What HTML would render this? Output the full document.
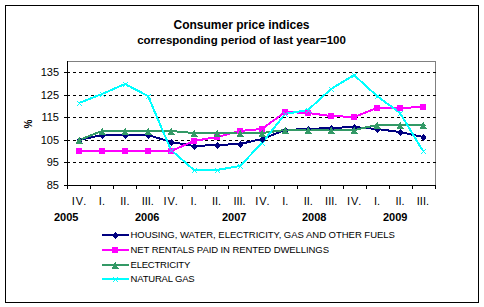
<!DOCTYPE html>
<html><head><meta charset="utf-8"><style>
html,body{margin:0;padding:0;background:#fff;}
body{width:484px;height:307px;position:relative;overflow:hidden;font-family:"Liberation Sans",sans-serif;}
.frame{position:absolute;left:5px;top:5px;width:472px;height:296px;border:1px solid #000;}
.t{position:absolute;white-space:nowrap;line-height:1;color:#000;}
.r{text-align:right;width:30px;}
.c{text-align:center;width:40px;}
svg{position:absolute;left:0;top:0;}
</style></head><body>
<div class="frame"></div>
<svg width="484" height="307" viewBox="0 0 484 307">
<path d="M67,61h369v1h-369z M435,61h1v125h-1z" fill="#808080"/>
<path d="M67,72h3v1h-3zM73,72h3v1h-3zM79,72h3v1h-3zM85,72h3v1h-3zM91,72h3v1h-3zM97,72h3v1h-3zM103,72h3v1h-3zM109,72h3v1h-3zM115,72h3v1h-3zM121,72h3v1h-3zM127,72h3v1h-3zM133,72h3v1h-3zM139,72h3v1h-3zM145,72h3v1h-3zM151,72h3v1h-3zM157,72h3v1h-3zM163,72h3v1h-3zM169,72h3v1h-3zM175,72h3v1h-3zM181,72h3v1h-3zM187,72h3v1h-3zM193,72h3v1h-3zM199,72h3v1h-3zM205,72h3v1h-3zM211,72h3v1h-3zM217,72h3v1h-3zM223,72h3v1h-3zM229,72h3v1h-3zM235,72h3v1h-3zM241,72h3v1h-3zM247,72h3v1h-3zM253,72h3v1h-3zM259,72h3v1h-3zM265,72h3v1h-3zM271,72h3v1h-3zM277,72h3v1h-3zM283,72h3v1h-3zM289,72h3v1h-3zM295,72h3v1h-3zM301,72h3v1h-3zM307,72h3v1h-3zM313,72h3v1h-3zM319,72h3v1h-3zM325,72h3v1h-3zM331,72h3v1h-3zM337,72h3v1h-3zM343,72h3v1h-3zM349,72h3v1h-3zM355,72h3v1h-3zM361,72h3v1h-3zM367,72h3v1h-3zM373,72h3v1h-3zM379,72h3v1h-3zM385,72h3v1h-3zM391,72h3v1h-3zM397,72h3v1h-3zM403,72h3v1h-3zM409,72h3v1h-3zM415,72h3v1h-3zM421,72h3v1h-3zM427,72h3v1h-3zM433,72h3v1h-3zM67,95h3v1h-3zM73,95h3v1h-3zM79,95h3v1h-3zM85,95h3v1h-3zM91,95h3v1h-3zM97,95h3v1h-3zM103,95h3v1h-3zM109,95h3v1h-3zM115,95h3v1h-3zM121,95h3v1h-3zM127,95h3v1h-3zM133,95h3v1h-3zM139,95h3v1h-3zM145,95h3v1h-3zM151,95h3v1h-3zM157,95h3v1h-3zM163,95h3v1h-3zM169,95h3v1h-3zM175,95h3v1h-3zM181,95h3v1h-3zM187,95h3v1h-3zM193,95h3v1h-3zM199,95h3v1h-3zM205,95h3v1h-3zM211,95h3v1h-3zM217,95h3v1h-3zM223,95h3v1h-3zM229,95h3v1h-3zM235,95h3v1h-3zM241,95h3v1h-3zM247,95h3v1h-3zM253,95h3v1h-3zM259,95h3v1h-3zM265,95h3v1h-3zM271,95h3v1h-3zM277,95h3v1h-3zM283,95h3v1h-3zM289,95h3v1h-3zM295,95h3v1h-3zM301,95h3v1h-3zM307,95h3v1h-3zM313,95h3v1h-3zM319,95h3v1h-3zM325,95h3v1h-3zM331,95h3v1h-3zM337,95h3v1h-3zM343,95h3v1h-3zM349,95h3v1h-3zM355,95h3v1h-3zM361,95h3v1h-3zM367,95h3v1h-3zM373,95h3v1h-3zM379,95h3v1h-3zM385,95h3v1h-3zM391,95h3v1h-3zM397,95h3v1h-3zM403,95h3v1h-3zM409,95h3v1h-3zM415,95h3v1h-3zM421,95h3v1h-3zM427,95h3v1h-3zM433,95h3v1h-3zM67,117h3v1h-3zM73,117h3v1h-3zM79,117h3v1h-3zM85,117h3v1h-3zM91,117h3v1h-3zM97,117h3v1h-3zM103,117h3v1h-3zM109,117h3v1h-3zM115,117h3v1h-3zM121,117h3v1h-3zM127,117h3v1h-3zM133,117h3v1h-3zM139,117h3v1h-3zM145,117h3v1h-3zM151,117h3v1h-3zM157,117h3v1h-3zM163,117h3v1h-3zM169,117h3v1h-3zM175,117h3v1h-3zM181,117h3v1h-3zM187,117h3v1h-3zM193,117h3v1h-3zM199,117h3v1h-3zM205,117h3v1h-3zM211,117h3v1h-3zM217,117h3v1h-3zM223,117h3v1h-3zM229,117h3v1h-3zM235,117h3v1h-3zM241,117h3v1h-3zM247,117h3v1h-3zM253,117h3v1h-3zM259,117h3v1h-3zM265,117h3v1h-3zM271,117h3v1h-3zM277,117h3v1h-3zM283,117h3v1h-3zM289,117h3v1h-3zM295,117h3v1h-3zM301,117h3v1h-3zM307,117h3v1h-3zM313,117h3v1h-3zM319,117h3v1h-3zM325,117h3v1h-3zM331,117h3v1h-3zM337,117h3v1h-3zM343,117h3v1h-3zM349,117h3v1h-3zM355,117h3v1h-3zM361,117h3v1h-3zM367,117h3v1h-3zM373,117h3v1h-3zM379,117h3v1h-3zM385,117h3v1h-3zM391,117h3v1h-3zM397,117h3v1h-3zM403,117h3v1h-3zM409,117h3v1h-3zM415,117h3v1h-3zM421,117h3v1h-3zM427,117h3v1h-3zM433,117h3v1h-3zM67,140h3v1h-3zM73,140h3v1h-3zM79,140h3v1h-3zM85,140h3v1h-3zM91,140h3v1h-3zM97,140h3v1h-3zM103,140h3v1h-3zM109,140h3v1h-3zM115,140h3v1h-3zM121,140h3v1h-3zM127,140h3v1h-3zM133,140h3v1h-3zM139,140h3v1h-3zM145,140h3v1h-3zM151,140h3v1h-3zM157,140h3v1h-3zM163,140h3v1h-3zM169,140h3v1h-3zM175,140h3v1h-3zM181,140h3v1h-3zM187,140h3v1h-3zM193,140h3v1h-3zM199,140h3v1h-3zM205,140h3v1h-3zM211,140h3v1h-3zM217,140h3v1h-3zM223,140h3v1h-3zM229,140h3v1h-3zM235,140h3v1h-3zM241,140h3v1h-3zM247,140h3v1h-3zM253,140h3v1h-3zM259,140h3v1h-3zM265,140h3v1h-3zM271,140h3v1h-3zM277,140h3v1h-3zM283,140h3v1h-3zM289,140h3v1h-3zM295,140h3v1h-3zM301,140h3v1h-3zM307,140h3v1h-3zM313,140h3v1h-3zM319,140h3v1h-3zM325,140h3v1h-3zM331,140h3v1h-3zM337,140h3v1h-3zM343,140h3v1h-3zM349,140h3v1h-3zM355,140h3v1h-3zM361,140h3v1h-3zM367,140h3v1h-3zM373,140h3v1h-3zM379,140h3v1h-3zM385,140h3v1h-3zM391,140h3v1h-3zM397,140h3v1h-3zM403,140h3v1h-3zM409,140h3v1h-3zM415,140h3v1h-3zM421,140h3v1h-3zM427,140h3v1h-3zM433,140h3v1h-3zM67,162h3v1h-3zM73,162h3v1h-3zM79,162h3v1h-3zM85,162h3v1h-3zM91,162h3v1h-3zM97,162h3v1h-3zM103,162h3v1h-3zM109,162h3v1h-3zM115,162h3v1h-3zM121,162h3v1h-3zM127,162h3v1h-3zM133,162h3v1h-3zM139,162h3v1h-3zM145,162h3v1h-3zM151,162h3v1h-3zM157,162h3v1h-3zM163,162h3v1h-3zM169,162h3v1h-3zM175,162h3v1h-3zM181,162h3v1h-3zM187,162h3v1h-3zM193,162h3v1h-3zM199,162h3v1h-3zM205,162h3v1h-3zM211,162h3v1h-3zM217,162h3v1h-3zM223,162h3v1h-3zM229,162h3v1h-3zM235,162h3v1h-3zM241,162h3v1h-3zM247,162h3v1h-3zM253,162h3v1h-3zM259,162h3v1h-3zM265,162h3v1h-3zM271,162h3v1h-3zM277,162h3v1h-3zM283,162h3v1h-3zM289,162h3v1h-3zM295,162h3v1h-3zM301,162h3v1h-3zM307,162h3v1h-3zM313,162h3v1h-3zM319,162h3v1h-3zM325,162h3v1h-3zM331,162h3v1h-3zM337,162h3v1h-3zM343,162h3v1h-3zM349,162h3v1h-3zM355,162h3v1h-3zM361,162h3v1h-3zM367,162h3v1h-3zM373,162h3v1h-3zM379,162h3v1h-3zM385,162h3v1h-3zM391,162h3v1h-3zM397,162h3v1h-3zM403,162h3v1h-3zM409,162h3v1h-3zM415,162h3v1h-3zM421,162h3v1h-3zM427,162h3v1h-3zM433,162h3v1h-3z" fill="#000"/>
<path d="M67,61h1v128h-1z M64,185h372v1h-372zM64,72h3v1h-3zM64,95h3v1h-3zM64,117h3v1h-3zM64,140h3v1h-3zM64,162h3v1h-3zM67,186h1v3h-1zM90,186h1v3h-1zM113,186h1v3h-1zM136,186h1v3h-1zM159,186h1v3h-1zM182,186h1v3h-1zM205,186h1v3h-1zM228,186h1v3h-1zM251,186h1v3h-1zM274,186h1v3h-1zM297,186h1v3h-1zM320,186h1v3h-1zM343,186h1v3h-1zM366,186h1v3h-1zM389,186h1v3h-1zM412,186h1v3h-1zM435,186h1v3h-1z" fill="#000"/>
<polyline points="79,140 102,135 125,135 148,135 171,142 194,146 217,145 240,144 262,139 285,130 308,129 331,128 354,127 377,129 400,132 423,137" fill="none" stroke="#000080" stroke-width="2" stroke-linejoin="miter" shape-rendering="crispEdges"/>
<polyline points="79,151 102,151 125,151 148,151 171,151 194,141 217,137 240,131 262,129 285,112 308,113 331,116 354,117 377,108 400,108 423,107" fill="none" stroke="#FF00FF" stroke-width="2" stroke-linejoin="miter" shape-rendering="crispEdges"/>
<polyline points="79,140 102,131 125,131 148,131 171,131 194,133 217,133 240,133 262,133 285,130 308,130 331,130 354,130 377,125 400,125 423,125" fill="none" stroke="#339966" stroke-width="2" stroke-linejoin="miter" shape-rendering="crispEdges"/>
<polyline points="79,103 102,94 125,84 148,96 171,150 194,170 217,170 240,166 262,143 285,114 308,110 331,89 354,75 377,96 400,113 423,151" fill="none" stroke="#00FFFF" stroke-width="2" stroke-linejoin="miter" shape-rendering="crispEdges"/>
<path d="M79,137h1v1h-1zM78,138h3v1h-3zM77,139h5v1h-5zM77,140h5v1h-5zM77,141h5v1h-5zM78,142h3v1h-3zM79,143h1v1h-1zM102,132h1v1h-1zM101,133h3v1h-3zM100,134h5v1h-5zM100,135h5v1h-5zM100,136h5v1h-5zM101,137h3v1h-3zM102,138h1v1h-1zM125,132h1v1h-1zM124,133h3v1h-3zM123,134h5v1h-5zM123,135h5v1h-5zM123,136h5v1h-5zM124,137h3v1h-3zM125,138h1v1h-1zM148,132h1v1h-1zM147,133h3v1h-3zM146,134h5v1h-5zM146,135h5v1h-5zM146,136h5v1h-5zM147,137h3v1h-3zM148,138h1v1h-1zM171,139h1v1h-1zM170,140h3v1h-3zM169,141h5v1h-5zM169,142h5v1h-5zM169,143h5v1h-5zM170,144h3v1h-3zM171,145h1v1h-1zM194,143h1v1h-1zM193,144h3v1h-3zM192,145h5v1h-5zM192,146h5v1h-5zM192,147h5v1h-5zM193,148h3v1h-3zM194,149h1v1h-1zM217,142h1v1h-1zM216,143h3v1h-3zM215,144h5v1h-5zM215,145h5v1h-5zM215,146h5v1h-5zM216,147h3v1h-3zM217,148h1v1h-1zM240,141h1v1h-1zM239,142h3v1h-3zM238,143h5v1h-5zM238,144h5v1h-5zM238,145h5v1h-5zM239,146h3v1h-3zM240,147h1v1h-1zM262,136h1v1h-1zM261,137h3v1h-3zM260,138h5v1h-5zM260,139h5v1h-5zM260,140h5v1h-5zM261,141h3v1h-3zM262,142h1v1h-1zM285,127h1v1h-1zM284,128h3v1h-3zM283,129h5v1h-5zM283,130h5v1h-5zM283,131h5v1h-5zM284,132h3v1h-3zM285,133h1v1h-1zM308,126h1v1h-1zM307,127h3v1h-3zM306,128h5v1h-5zM306,129h5v1h-5zM306,130h5v1h-5zM307,131h3v1h-3zM308,132h1v1h-1zM331,125h1v1h-1zM330,126h3v1h-3zM329,127h5v1h-5zM329,128h5v1h-5zM329,129h5v1h-5zM330,130h3v1h-3zM331,131h1v1h-1zM354,124h1v1h-1zM353,125h3v1h-3zM352,126h5v1h-5zM352,127h5v1h-5zM352,128h5v1h-5zM353,129h3v1h-3zM354,130h1v1h-1zM377,126h1v1h-1zM376,127h3v1h-3zM375,128h5v1h-5zM375,129h5v1h-5zM375,130h5v1h-5zM376,131h3v1h-3zM377,132h1v1h-1zM400,129h1v1h-1zM399,130h3v1h-3zM398,131h5v1h-5zM398,132h5v1h-5zM398,133h5v1h-5zM399,134h3v1h-3zM400,135h1v1h-1zM423,134h1v1h-1zM422,135h3v1h-3zM421,136h5v1h-5zM421,137h5v1h-5zM421,138h5v1h-5zM422,139h3v1h-3zM423,140h1v1h-1z" fill="#000080"/>
<path d="M76,148h6v1h-6zM76,149h6v1h-6zM76,150h6v1h-6zM76,151h6v1h-6zM76,152h6v1h-6zM76,153h6v1h-6zM99,148h6v1h-6zM99,149h6v1h-6zM99,150h6v1h-6zM99,151h6v1h-6zM99,152h6v1h-6zM99,153h6v1h-6zM122,148h6v1h-6zM122,149h6v1h-6zM122,150h6v1h-6zM122,151h6v1h-6zM122,152h6v1h-6zM122,153h6v1h-6zM145,148h6v1h-6zM145,149h6v1h-6zM145,150h6v1h-6zM145,151h6v1h-6zM145,152h6v1h-6zM145,153h6v1h-6zM168,148h6v1h-6zM168,149h6v1h-6zM168,150h6v1h-6zM168,151h6v1h-6zM168,152h6v1h-6zM168,153h6v1h-6zM191,138h6v1h-6zM191,139h6v1h-6zM191,140h6v1h-6zM191,141h6v1h-6zM191,142h6v1h-6zM191,143h6v1h-6zM214,134h6v1h-6zM214,135h6v1h-6zM214,136h6v1h-6zM214,137h6v1h-6zM214,138h6v1h-6zM214,139h6v1h-6zM237,128h6v1h-6zM237,129h6v1h-6zM237,130h6v1h-6zM237,131h6v1h-6zM237,132h6v1h-6zM237,133h6v1h-6zM259,126h6v1h-6zM259,127h6v1h-6zM259,128h6v1h-6zM259,129h6v1h-6zM259,130h6v1h-6zM259,131h6v1h-6zM282,109h6v1h-6zM282,110h6v1h-6zM282,111h6v1h-6zM282,112h6v1h-6zM282,113h6v1h-6zM282,114h6v1h-6zM305,110h6v1h-6zM305,111h6v1h-6zM305,112h6v1h-6zM305,113h6v1h-6zM305,114h6v1h-6zM305,115h6v1h-6zM328,113h6v1h-6zM328,114h6v1h-6zM328,115h6v1h-6zM328,116h6v1h-6zM328,117h6v1h-6zM328,118h6v1h-6zM351,114h6v1h-6zM351,115h6v1h-6zM351,116h6v1h-6zM351,117h6v1h-6zM351,118h6v1h-6zM351,119h6v1h-6zM374,105h6v1h-6zM374,106h6v1h-6zM374,107h6v1h-6zM374,108h6v1h-6zM374,109h6v1h-6zM374,110h6v1h-6zM397,105h6v1h-6zM397,106h6v1h-6zM397,107h6v1h-6zM397,108h6v1h-6zM397,109h6v1h-6zM397,110h6v1h-6zM420,104h6v1h-6zM420,105h6v1h-6zM420,106h6v1h-6zM420,107h6v1h-6zM420,108h6v1h-6zM420,109h6v1h-6z" fill="#FF00FF"/>
<path d="M79,137h1v1h-1zM78,138h2v1h-2zM78,139h3v1h-3zM77,140h5v1h-5zM77,141h4v1h-4zM76,142h6v1h-6zM76,143h7v1h-7zM102,128h1v1h-1zM101,129h2v1h-2zM101,130h3v1h-3zM100,131h5v1h-5zM100,132h4v1h-4zM99,133h6v1h-6zM99,134h7v1h-7zM125,128h1v1h-1zM124,129h2v1h-2zM124,130h3v1h-3zM123,131h5v1h-5zM123,132h4v1h-4zM122,133h6v1h-6zM122,134h7v1h-7zM148,128h1v1h-1zM147,129h2v1h-2zM147,130h3v1h-3zM146,131h5v1h-5zM146,132h4v1h-4zM145,133h6v1h-6zM145,134h7v1h-7zM171,128h1v1h-1zM170,129h2v1h-2zM170,130h3v1h-3zM169,131h5v1h-5zM169,132h4v1h-4zM168,133h6v1h-6zM168,134h7v1h-7zM194,130h1v1h-1zM193,131h2v1h-2zM193,132h3v1h-3zM192,133h5v1h-5zM192,134h4v1h-4zM191,135h6v1h-6zM191,136h7v1h-7zM217,130h1v1h-1zM216,131h2v1h-2zM216,132h3v1h-3zM215,133h5v1h-5zM215,134h4v1h-4zM214,135h6v1h-6zM214,136h7v1h-7zM240,130h1v1h-1zM239,131h2v1h-2zM239,132h3v1h-3zM238,133h5v1h-5zM238,134h4v1h-4zM237,135h6v1h-6zM237,136h7v1h-7zM262,130h1v1h-1zM261,131h2v1h-2zM261,132h3v1h-3zM260,133h5v1h-5zM260,134h4v1h-4zM259,135h6v1h-6zM259,136h7v1h-7zM285,127h1v1h-1zM284,128h2v1h-2zM284,129h3v1h-3zM283,130h5v1h-5zM283,131h4v1h-4zM282,132h6v1h-6zM282,133h7v1h-7zM308,127h1v1h-1zM307,128h2v1h-2zM307,129h3v1h-3zM306,130h5v1h-5zM306,131h4v1h-4zM305,132h6v1h-6zM305,133h7v1h-7zM331,127h1v1h-1zM330,128h2v1h-2zM330,129h3v1h-3zM329,130h5v1h-5zM329,131h4v1h-4zM328,132h6v1h-6zM328,133h7v1h-7zM354,127h1v1h-1zM353,128h2v1h-2zM353,129h3v1h-3zM352,130h5v1h-5zM352,131h4v1h-4zM351,132h6v1h-6zM351,133h7v1h-7zM377,122h1v1h-1zM376,123h2v1h-2zM376,124h3v1h-3zM375,125h5v1h-5zM375,126h4v1h-4zM374,127h6v1h-6zM374,128h7v1h-7zM400,122h1v1h-1zM399,123h2v1h-2zM399,124h3v1h-3zM398,125h5v1h-5zM398,126h4v1h-4zM397,127h6v1h-6zM397,128h7v1h-7zM423,122h1v1h-1zM422,123h2v1h-2zM422,124h3v1h-3zM421,125h5v1h-5zM421,126h4v1h-4zM420,127h6v1h-6zM420,128h7v1h-7z" fill="#339966"/>
<path d="M77,101h1v1h-1zM81,101h1v1h-1zM78,102h1v1h-1zM80,102h1v1h-1zM79,103h1v1h-1zM78,104h1v1h-1zM80,104h1v1h-1zM77,105h1v1h-1zM81,105h1v1h-1zM100,92h1v1h-1zM104,92h1v1h-1zM101,93h1v1h-1zM103,93h1v1h-1zM102,94h1v1h-1zM101,95h1v1h-1zM103,95h1v1h-1zM100,96h1v1h-1zM104,96h1v1h-1zM123,82h1v1h-1zM127,82h1v1h-1zM124,83h1v1h-1zM126,83h1v1h-1zM125,84h1v1h-1zM124,85h1v1h-1zM126,85h1v1h-1zM123,86h1v1h-1zM127,86h1v1h-1zM146,94h1v1h-1zM150,94h1v1h-1zM147,95h1v1h-1zM149,95h1v1h-1zM148,96h1v1h-1zM147,97h1v1h-1zM149,97h1v1h-1zM146,98h1v1h-1zM150,98h1v1h-1zM169,148h1v1h-1zM173,148h1v1h-1zM170,149h1v1h-1zM172,149h1v1h-1zM171,150h1v1h-1zM170,151h1v1h-1zM172,151h1v1h-1zM169,152h1v1h-1zM173,152h1v1h-1zM192,168h1v1h-1zM196,168h1v1h-1zM193,169h1v1h-1zM195,169h1v1h-1zM194,170h1v1h-1zM193,171h1v1h-1zM195,171h1v1h-1zM192,172h1v1h-1zM196,172h1v1h-1zM215,168h1v1h-1zM219,168h1v1h-1zM216,169h1v1h-1zM218,169h1v1h-1zM217,170h1v1h-1zM216,171h1v1h-1zM218,171h1v1h-1zM215,172h1v1h-1zM219,172h1v1h-1zM238,164h1v1h-1zM242,164h1v1h-1zM239,165h1v1h-1zM241,165h1v1h-1zM240,166h1v1h-1zM239,167h1v1h-1zM241,167h1v1h-1zM238,168h1v1h-1zM242,168h1v1h-1zM260,141h1v1h-1zM264,141h1v1h-1zM261,142h1v1h-1zM263,142h1v1h-1zM262,143h1v1h-1zM261,144h1v1h-1zM263,144h1v1h-1zM260,145h1v1h-1zM264,145h1v1h-1zM283,112h1v1h-1zM287,112h1v1h-1zM284,113h1v1h-1zM286,113h1v1h-1zM285,114h1v1h-1zM284,115h1v1h-1zM286,115h1v1h-1zM283,116h1v1h-1zM287,116h1v1h-1zM306,108h1v1h-1zM310,108h1v1h-1zM307,109h1v1h-1zM309,109h1v1h-1zM308,110h1v1h-1zM307,111h1v1h-1zM309,111h1v1h-1zM306,112h1v1h-1zM310,112h1v1h-1zM329,87h1v1h-1zM333,87h1v1h-1zM330,88h1v1h-1zM332,88h1v1h-1zM331,89h1v1h-1zM330,90h1v1h-1zM332,90h1v1h-1zM329,91h1v1h-1zM333,91h1v1h-1zM352,73h1v1h-1zM356,73h1v1h-1zM353,74h1v1h-1zM355,74h1v1h-1zM354,75h1v1h-1zM353,76h1v1h-1zM355,76h1v1h-1zM352,77h1v1h-1zM356,77h1v1h-1zM375,94h1v1h-1zM379,94h1v1h-1zM376,95h1v1h-1zM378,95h1v1h-1zM377,96h1v1h-1zM376,97h1v1h-1zM378,97h1v1h-1zM375,98h1v1h-1zM379,98h1v1h-1zM398,111h1v1h-1zM402,111h1v1h-1zM399,112h1v1h-1zM401,112h1v1h-1zM400,113h1v1h-1zM399,114h1v1h-1zM401,114h1v1h-1zM398,115h1v1h-1zM402,115h1v1h-1zM421,149h1v1h-1zM425,149h1v1h-1zM422,150h1v1h-1zM424,150h1v1h-1zM423,151h1v1h-1zM422,152h1v1h-1zM424,152h1v1h-1zM421,153h1v1h-1zM425,153h1v1h-1z" fill="#00FFFF"/>
<path d="M102,234h27v2h-27z" fill="#000080"/>
<path d="M115,232h1v1h-1zM114,233h3v1h-3zM113,234h5v1h-5zM113,235h5v1h-5zM113,236h5v1h-5zM114,237h3v1h-3zM115,238h1v1h-1z" fill="#000080"/>
<path d="M102,249h27v2h-27z" fill="#FF00FF"/>
<path d="M112,247h6v1h-6zM112,248h6v1h-6zM112,249h6v1h-6zM112,250h6v1h-6zM112,251h6v1h-6zM112,252h6v1h-6z" fill="#FF00FF"/>
<path d="M102,264h27v2h-27z" fill="#339966"/>
<path d="M115,262h1v1h-1zM114,263h2v1h-2zM114,264h3v1h-3zM113,265h5v1h-5zM113,266h4v1h-4zM112,267h6v1h-6zM112,268h7v1h-7z" fill="#339966"/>
<path d="M102,278h27v2h-27z" fill="#00FFFF"/>
<path d="M113,277h1v1h-1zM117,277h1v1h-1zM114,278h1v1h-1zM116,278h1v1h-1zM115,279h1v1h-1zM114,280h1v1h-1zM116,280h1v1h-1zM113,281h1v1h-1zM117,281h1v1h-1z" fill="#00FFFF"/>
</svg>
<div class="t" style="left:0;width:483px;top:19px;text-align:center;font-size:12px;font-weight:bold;">Consumer price indices</div>
<div class="t" style="left:0;width:483px;top:35px;text-align:center;font-size:11.5px;font-weight:bold;">corresponding period of last year=100</div>
<div class="t r" style="left:29px;top:67px;font-size:11px;">135</div>
<div class="t r" style="left:29px;top:90px;font-size:11px;">125</div>
<div class="t r" style="left:29px;top:112px;font-size:11px;">115</div>
<div class="t r" style="left:29px;top:135px;font-size:11px;">105</div>
<div class="t r" style="left:29px;top:157px;font-size:11px;">95</div>
<div class="t r" style="left:29px;top:180px;font-size:11px;">85</div>
<div class="t" style="left:25px;top:119px;font-size:10px;font-weight:bold;transform:rotate(-90deg);transform-origin:50% 50%;">%</div>
<div class="t c" style="left:59.0px;top:196px;font-size:11px;letter-spacing:1px;text-indent:1px;">IV.</div>
<div class="t c" style="left:81.93px;top:196px;font-size:11px;">I.</div>
<div class="t c" style="left:104.86px;top:196px;font-size:11px;">II.</div>
<div class="t c" style="left:127.78999999999999px;top:196px;font-size:11px;">III.</div>
<div class="t c" style="left:150.72px;top:196px;font-size:11px;letter-spacing:1px;text-indent:1px;">IV.</div>
<div class="t c" style="left:173.65px;top:196px;font-size:11px;">I.</div>
<div class="t c" style="left:196.58px;top:196px;font-size:11px;">II.</div>
<div class="t c" style="left:219.51px;top:196px;font-size:11px;">III.</div>
<div class="t c" style="left:242.44px;top:196px;font-size:11px;letter-spacing:1px;text-indent:1px;">IV.</div>
<div class="t c" style="left:265.37px;top:196px;font-size:11px;">I.</div>
<div class="t c" style="left:288.3px;top:196px;font-size:11px;">II.</div>
<div class="t c" style="left:311.23px;top:196px;font-size:11px;">III.</div>
<div class="t c" style="left:334.16px;top:196px;font-size:11px;letter-spacing:1px;text-indent:1px;">IV.</div>
<div class="t c" style="left:357.09px;top:196px;font-size:11px;">I.</div>
<div class="t c" style="left:380.02px;top:196px;font-size:11px;">II.</div>
<div class="t c" style="left:402.95px;top:196px;font-size:11px;">III.</div>
<div class="t" style="left:54px;top:212px;font-size:11px;font-weight:bold;">2005</div>
<div class="t" style="left:135px;top:212px;font-size:11px;font-weight:bold;">2006</div>
<div class="t" style="left:222px;top:212px;font-size:11px;font-weight:bold;">2007</div>
<div class="t" style="left:302px;top:212px;font-size:11px;font-weight:bold;">2008</div>
<div class="t" style="left:383px;top:212px;font-size:11px;font-weight:bold;">2009</div>
<div class="t" style="left:130.5px;top:230px;font-size:9.5px;letter-spacing:-0.02px;">HOUSING, WATER, ELECTRICITY, GAS AND OTHER FUELS</div>
<div class="t" style="left:130.5px;top:245px;font-size:9.5px;letter-spacing:-0.075px;">NET RENTALS PAID IN RENTED DWELLINGS</div>
<div class="t" style="left:130.5px;top:260px;font-size:9.5px;letter-spacing:-0.2px;">ELECTRICITY</div>
<div class="t" style="left:130.5px;top:274px;font-size:9.5px;letter-spacing:-0.18px;">NATURAL GAS</div>
</body></html>
